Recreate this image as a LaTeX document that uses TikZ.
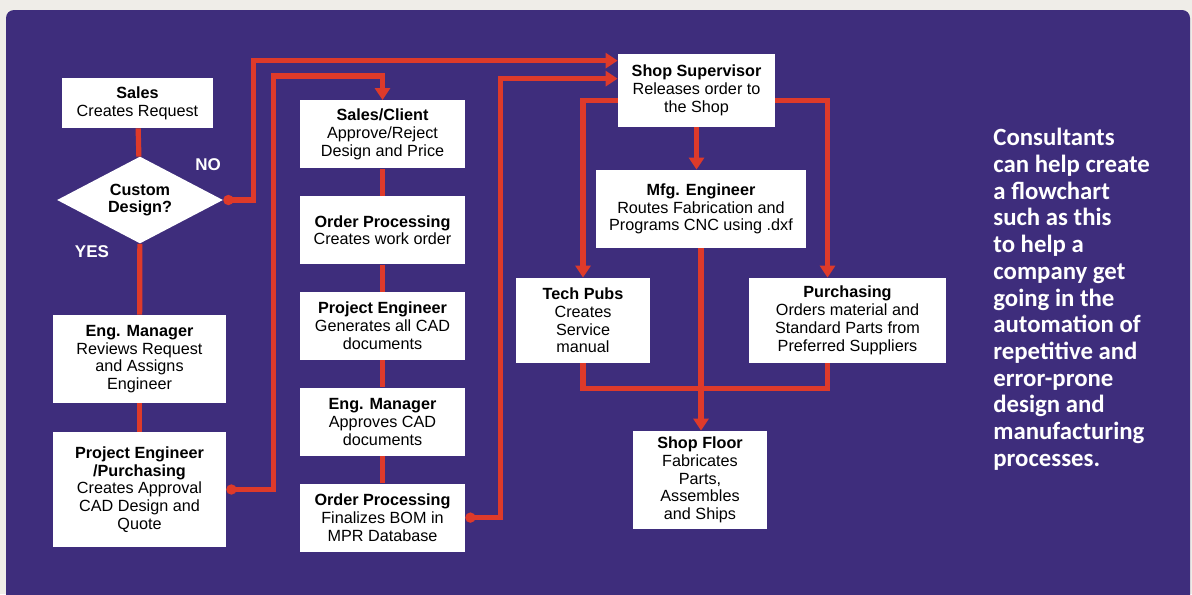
\documentclass[tikz,border=0pt]{standalone}
\usepackage{fontspec}
\setmainfont{Liberation Sans}
\newfontfamily\blurbfont{Carlito}
\usetikzlibrary{arrows.meta, positioning, shapes.geometric}
\definecolor{panel}{HTML}{3E2D7C}
\definecolor{flow}{HTML}{DE3A2A}
\definecolor{paper}{HTML}{EFEDE8}

\begin{document}
\begin{tikzpicture}[
  x=0.5pt, y=-0.5pt,
  font=\fontsize{8.1}{8.9}\selectfont,
  box/.style={fill=white, align=center, inner sep=0pt},
  leftbox/.style={box, minimum width=86.5pt},
  midbox/.style={box, minimum width=82.5pt, minimum height=34pt},
  decide/.style={diamond, fill=white, aspect=2, inner sep=0pt, align=center,
                 minimum width=83pt, minimum height=43.5pt,
                 font=\fontsize{8.1}{8.9}\selectfont\bfseries},
  link/.style={draw=flow, line width=2.6pt},
  ar/.style={link, -{Triangle[length=6pt, width=7.5pt]}},
  feed/.style={link, {Circle[length=5pt]}-{Triangle[length=6pt, width=7.5pt]}},
  tag/.style={text=white, font=\fontsize{8.5}{9}\selectfont\bfseries},
  node distance=13.5pt]

\useasboundingbox (0,0) rectangle (1192,594);
\fill[paper] (0,0) rectangle (1192,594);
\fill[panel, rounded corners=4pt] (6,10) rectangle (1190,610);

% request and design branch
\node[box, minimum width=75.5pt, minimum height=25pt] (sales) at (137.5,103) {\textbf{Sales}\\Creates Request};
\node[decide] (custom) at (140,200) {Custom\\Design?};
\node[leftbox, minimum height=44pt] (engmgr) at (139.5,359) {\textbf{Eng. Manager}\\Reviews Request\\and Assigns\\Engineer};
\node[leftbox, minimum height=57.5pt] (projpur) at (139.5,489.5) {\textbf{Project Engineer}\\\textbf{/Purchasing}\\Creates Approval\\CAD Design and\\Quote};
\node[tag] (no) at (208,165) {NO};
\node[tag] (yes) at (92,252) {YES};

% order chain
\node[midbox, anchor=north] (client) at (382.5,100) {\textbf{Sales/Client}\\Approve/Reject\\Design and Price};
\node[midbox, below=of client] (workord) {\textbf{Order Processing}\\Creates work order};
\node[midbox, below=of workord] (cad) {\textbf{Project Engineer}\\Generates all CAD\\documents};
\node[midbox, below=of cad] (approve) {\textbf{Eng. Manager}\\Approves CAD\\documents};
\node[midbox, below=of approve] (bom) {\textbf{Order Processing}\\Finalizes BOM in\\MPR Database};

% shop side
\node[box, minimum width=78.5pt, minimum height=36.5pt] (super) at (696.5,90.5) {\textbf{Shop Supervisor}\\Releases order to\\the Shop};
\node[box, minimum width=105pt, minimum height=39pt] (mfg) at (701,209) {\textbf{Mfg. Engineer}\\Routes Fabrication and\\Programs CNC using .dxf};
\node[box, minimum width=67pt, minimum height=42.5pt] (pubs) at (583,320.5) {\textbf{Tech Pubs}\\Creates\\Service\\manual};
\node[box, minimum width=98.5pt, minimum height=42.5pt] (purch) at (847.5,320.5) {\textbf{Purchasing}\\Orders material and\\Standard Parts from\\Preferred Suppliers};
\node[box, minimum width=67pt, minimum height=49pt] (floor) at (700,480) {\textbf{Shop Floor}\\Fabricates\\Parts,\\Assembles\\and Ships};

\node[anchor=north west, align=left, inner sep=0pt, text=white,
      font=\blurbfont\bfseries\fontsize{12.4}{13.35}\selectfont] (blurb) at (993,128)
  {Consultants\\can help create\\a flowchart\\such as this\\to help a\\company get\\going in the\\automation of\\repetitive and\\error-prone\\design and\\manufacturing\\processes.};

\coordinate (in1) at ([yshift=-3.5pt]super.north west);
\coordinate (in2) at ([yshift=-12.5pt]super.north west);
\coordinate (outl) at ([yshift=-23.5pt]super.north west);
\coordinate (outr) at ([yshift=-23.5pt]super.north east);
\coordinate (top2) at ([yshift=12pt]client.north);
\coordinate (purtop) at ([xshift=-10pt]purch.north);
\coordinate (purbot) at ([xshift=-10pt]purch.south);

\draw[link] (sales) -- (custom);
\draw[link] (custom) -- (engmgr);
\draw[link] (engmgr) -- (projpur);
\foreach \a/\b in {client/workord, workord/cad, cad/approve, approve/bom}
  \draw[link] (\a) -- (\b);

\draw[feed] (custom.east) -- ++(30,0) |- (in1);
\draw[feed] (projpur.east) -- ++(47,0) |- (top2) -- (client.north);
\draw[feed] (bom.east) -- ++(35,0) |- (in2);

\draw[ar] (outl) -| (pubs.north);
\draw[ar] (outr) -| (purtop);
\draw[ar] (super.south) -- (super.south |- mfg.north);
\draw[ar] (mfg.south) -- (mfg.south |- floor.north);
\draw[link] (pubs.south) -- ++(0,25) -| (purbot);
\end{tikzpicture}
\end{document}
